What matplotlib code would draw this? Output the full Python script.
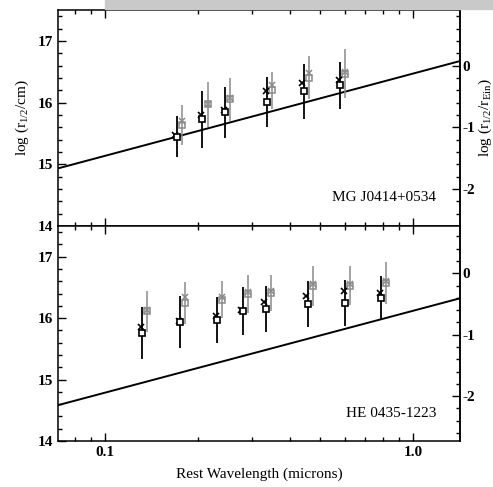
import matplotlib
matplotlib.use("Agg")
import matplotlib.pyplot as plt
from matplotlib.ticker import LogLocator, NullFormatter, FixedLocator, FuncFormatter, MultipleLocator
from matplotlib.patches import Rectangle
import numpy as np

plt.rcParams["font.family"] = ["Liberation Serif", "DejaVu Serif"]
plt.rcParams["mathtext.fontset"] = "custom"
plt.rcParams["mathtext.rm"] = "Liberation Serif"
plt.rcParams["mathtext.it"] = "Liberation Serif"
plt.rcParams["axes.unicode_minus"] = False

# MG J0414+0534 (top panel)
lam_top = [0.171, 0.207, 0.245, 0.336, 0.442, 0.579]
sq_top = [15.45, 15.73, 15.84, 16.01, 16.18, 16.28]
err_top = [0.34, 0.46, 0.42, 0.40, 0.44, 0.38]
x_top = [15.47, 15.80, 15.88, 16.19, 16.32, 16.37]
gsq_top = [15.64, 15.97, 16.05, 16.20, 16.40, 16.47]
gerr_top = [0.32, 0.36, 0.35, 0.30, 0.35, 0.39]
gx_top = [15.70, 15.98, 16.08, 16.28, 16.48, 16.49]

# HE 0435-1223 (bottom panel)
lam_bot = [0.132, 0.175, 0.231, 0.280, 0.332, 0.455, 0.601, 0.786]
sq_bot = [15.76, 15.94, 15.97, 16.11, 16.15, 16.23, 16.25, 16.33]
err_bot = [0.42, 0.42, 0.38, 0.39, 0.37, 0.37, 0.37, 0.36]
x_bot = [15.85, 15.95, 16.04, 16.13, 16.26, 16.36, 16.44, 16.41]
gsq_bot = [16.11, 16.25, 16.30, 16.39, 16.41, 16.52, 16.53, 16.57]
gerr_bot = [0.33, 0.34, 0.30, 0.31, 0.29, 0.33, 0.32, 0.34]
gx_bot = [16.13, 16.35, 16.35, 16.42, 16.44, 16.55, 16.55, 16.60]

# thin-disk model: log r = intercept + slope * log10(lambda)
slope = 4.0 / 3.0
intercept_top = 16.47
intercept_bot = 16.12
# log r_Ein for the right-hand axis
log_rein_top = 16.60
log_rein_bot = 16.73

names = ["MG J0414+0534", "HE 0435-1223"]

GREY = "#8a8a8a"
XLIM = (0.0704, 1.42)
YLIM = (14.0, 17.5)
FS = 11

fig = plt.figure(figsize=(4.93, 4.87), dpi=100)
# grey strip from the screenshot at the top
fig.patches.append(Rectangle((105 / 493, 1 - 9 / 487), 1, 9 / 487,
                             transform=fig.transFigure, color="#c9c9c9", zorder=0))

left, width = 58 / 493, 402 / 493
ax_top = fig.add_axes([left, 1 - 226 / 487, width, 216 / 487])
ax_bot = fig.add_axes([left, 1 - 441 / 487, width, 215 / 487], sharex=ax_top)

panels = [
    (ax_top, lam_top, sq_top, err_top, x_top, gsq_top, gerr_top, gx_top, intercept_top, log_rein_top),
    (ax_bot, lam_bot, sq_bot, err_bot, x_bot, gsq_bot, gerr_bot, gx_bot, intercept_bot, log_rein_bot),
]

for i, (ax, lam, sq, err, xs, gsq, gerr, gx, icpt, rein) in enumerate(panels):
    lam = np.array(lam)
    glam = lam * 1.04

    lx = np.array(XLIM)
    ax.plot(lx, icpt + slope * np.log10(lx), color="black", lw=1.4, zorder=2)

    ax.errorbar(glam, gsq, yerr=gerr, fmt="none", ecolor=GREY, elinewidth=1.1, capsize=0, zorder=3)
    ax.plot(glam, gx, ls="none", marker="x", ms=5, mew=1.1, color=GREY, zorder=4)
    ax.plot(glam, gsq, ls="none", marker="s", ms=5, mew=1.1, mfc="none", mec=GREY, zorder=4)

    ax.errorbar(lam, sq, yerr=err, fmt="none", ecolor="black", elinewidth=1.3, capsize=0, zorder=5)
    ax.plot(lam * 0.99, xs, ls="none", marker="x", ms=5, mew=1.2, color="black", zorder=6)
    ax.plot(lam, sq, ls="none", marker="s", ms=5, mew=1.2, mfc="white", mec="black", zorder=6)

    ax.set_xscale("log")
    ax.set_xlim(*XLIM)
    ax.set_ylim(*YLIM)
    ax.xaxis.set_major_locator(FixedLocator([0.1, 1.0]))
    ax.xaxis.set_minor_locator(LogLocator(base=10, subs=np.arange(2, 10)))
    ax.xaxis.set_minor_formatter(NullFormatter())
    ax.xaxis.set_major_formatter(FuncFormatter(lambda v, p: f"{v:.1f}"))
    ax.yaxis.set_major_locator(MultipleLocator(1))
    ax.yaxis.set_minor_locator(MultipleLocator(0.2))
    ax.tick_params(which="both", direction="in", top=True, bottom=True, left=True, right=False,
                   labelsize=FS, width=1.0)
    ax.tick_params(which="major", length=6)
    ax.tick_params(which="minor", length=3)
    for s in ax.spines.values():
        s.set_linewidth(1.1)

    sec = ax.secondary_yaxis("right", functions=(lambda y, r=rein: y - r, lambda y, r=rein: y + r))
    sec.yaxis.set_major_locator(MultipleLocator(1))
    sec.yaxis.set_minor_locator(MultipleLocator(0.2))
    sec.tick_params(which="both", direction="in", labelsize=FS, width=1.0, pad=2)
    sec.tick_params(which="major", length=6)
    sec.tick_params(which="minor", length=3)
    sec.spines["right"].set_linewidth(1.1)
    for lbl in ax.get_yticklabels() + ax.get_xticklabels() + sec.get_yticklabels():
        lbl.set_fontweight("bold")

    ax.text(0.94, 0.13, names[i], transform=ax.transAxes, ha="right", va="center", fontsize=FS)

ax_top.tick_params(labelbottom=False)
for lbl in ax_bot.get_xticklabels():
    lbl.set_fontweight("bold")
ax_bot.set_xlabel("Rest Wavelength (microns)", fontsize=FS, labelpad=6)

top_center = 1 - 118 / 487
fig.text(22 / 493, top_center, r"log (r$_{1/2}$/cm)", rotation=90, ha="center", va="center", fontsize=FS)
fig.text(485 / 493, top_center, r"log (r$_{1/2}$/r$_{\rm Ein}$)", rotation=90, ha="center", va="center", fontsize=FS)

fig.savefig("out.png", dpi=100, facecolor="white")
